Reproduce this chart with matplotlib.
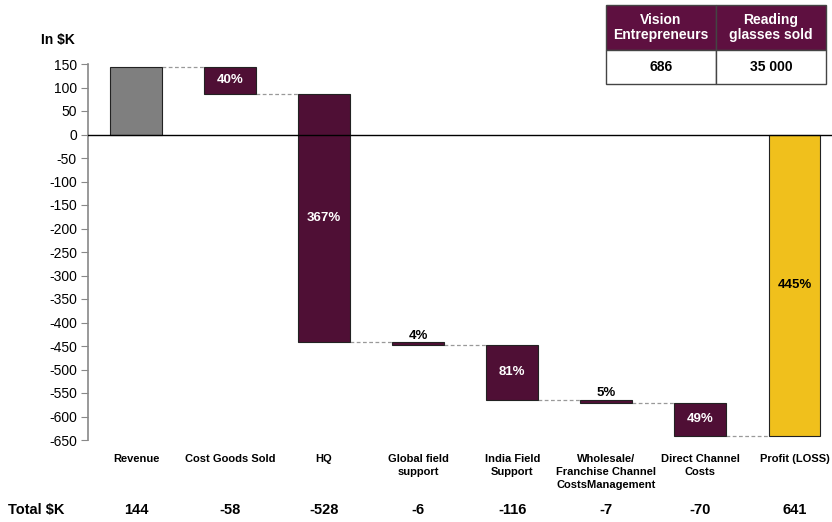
import numpy as np
import matplotlib.pyplot as plt
from matplotlib.patches import Rectangle

categories = ['Revenue', 'Cost Goods Sold', 'HQ', 'Global field\nsupport',
              'India Field\nSupport', 'Wholesale/\nFranchise Channel\nCostsManagement',
              'Direct Channel\nCosts', 'Profit (LOSS)']
values = [144, -58, -528, -6, -116, -7, -70, 641]
pct_labels = ['', '40%', '367%', '4%', '81%', '5%', '49%', '445%']
yticks = list(range(-650, 151, 50))
table_head = ['Vision\nEntrepreneurs', 'Reading\nglasses sold']
table_vals = ['686', '35 000']

maroon = '#4f0f35'
head_col = '#5e1040'
gray = '#7f7f7f'
gold = '#f0c01c'

narrow = ['Liberation Sans Narrow', 'Liberation Sans', 'DejaVu Sans']
plt.rcParams['font.family'] = ['Liberation Sans', 'DejaVu Sans']
plt.rcParams['axes.unicode_minus'] = False

fig = plt.figure(figsize=(8.32, 5.22), dpi=100)
ax = fig.add_axes([88 / 832, 1 - 440 / 522, 1 - 88 / 832, (440 - 64) / 522])

# waterfall bottoms / heights
n = len(values)
x = np.arange(n)
w = 0.55
running = 0
bottoms, heights, colors = [], [], []
for i, v in enumerate(values):
    if i == 0:
        bottoms.append(0); heights.append(v); colors.append(gray)
        running = v
    elif i == n - 1:
        # profit (loss) drawn from zero down to the running total
        bottoms.append(0); heights.append(running); colors.append(gold)
    else:
        bottoms.append(running); heights.append(v); colors.append(maroon)
        running += v

ax.bar(x, heights, bottom=bottoms, width=w, color=colors,
       edgecolor='#222222', linewidth=0.8, zorder=3)

# dashed connectors
levels = [b + h for b, h in zip(bottoms, heights)]
for i in range(n - 1):
    ax.plot([x[i] + w / 2, x[i + 1] - w / 2], [levels[i], levels[i]],
            ls=(0, (3, 2)), color='#999999', lw=0.9, zorder=2)

# percent labels
for i in range(1, n):
    b, h = bottoms[i], heights[i]
    if abs(h) > 30:
        ax.text(x[i], b + h / 2, pct_labels[i], ha='center', va='center',
                fontsize=9.5, fontweight='bold',
                color='black' if i == n - 1 else 'white', zorder=4)
    else:
        ax.text(x[i], max(b, b + h) + 14, pct_labels[i], ha='center',
                va='center', fontsize=9.5, fontweight='bold', color='black')

ax.axhline(0, color='black', lw=1.0, zorder=4)
ax.set_xlim(-0.51, 7.40)
ax.set_ylim(-650, 150)
ax.set_yticks(yticks)
ax.tick_params(axis='y', labelsize=10, direction='out', length=5,
               color='#888888', pad=3)
ax.set_xticks([])
for s in ['top', 'right', 'bottom']:
    ax.spines[s].set_visible(False)
ax.spines['left'].set_color('#888888')
ax.spines['left'].set_linewidth(1.2)

ax.text(-0.017, 1.064, 'In $K', transform=ax.transAxes, ha='right',
        va='center', fontsize=10, fontweight='bold')

# category labels and totals
xt = ax.get_xaxis_transform()
for i, c in enumerate(categories):
    ax.text(x[i], -0.037, c, transform=xt, ha='center', va='top',
            fontsize=8, fontweight='bold', family=narrow, linespacing=1.4)
    ax.text(x[i], -0.186, str(values[i]), transform=xt, ha='center',
            va='center', fontsize=10.5, fontweight='bold', family=narrow)
fig.text(8 / 832, 1 - 510 / 522, 'Total $K', ha='left', va='center',
         fontsize=10.5, fontweight='bold', family=narrow)

# small table, top right
tx0, tx1, tx2 = 606 / 832, 716 / 832, 826 / 832
ty0, ty1, ty2 = 1 - 5 / 522, 1 - 50 / 522, 1 - 84 / 522
for xa, xb, head, val in [(tx0, tx1, table_head[0], table_vals[0]),
                          (tx1, tx2, table_head[1], table_vals[1])]:
    fig.patches.append(Rectangle((xa, ty1), xb - xa, ty0 - ty1,
                                 transform=fig.transFigure, facecolor=head_col,
                                 edgecolor='#444444', lw=1.0))
    fig.patches.append(Rectangle((xa, ty2), xb - xa, ty1 - ty2,
                                 transform=fig.transFigure, facecolor='white',
                                 edgecolor='#444444', lw=1.0))
    fig.text((xa + xb) / 2, (ty0 + ty1) / 2, head, ha='center', va='center',
             color='white', fontsize=10, fontweight='bold', linespacing=1.1)
    fig.text((xa + xb) / 2, (ty1 + ty2) / 2, val, ha='center', va='center',
             color='black', fontsize=10, fontweight='bold')

fig.savefig('out.png', dpi=100)
